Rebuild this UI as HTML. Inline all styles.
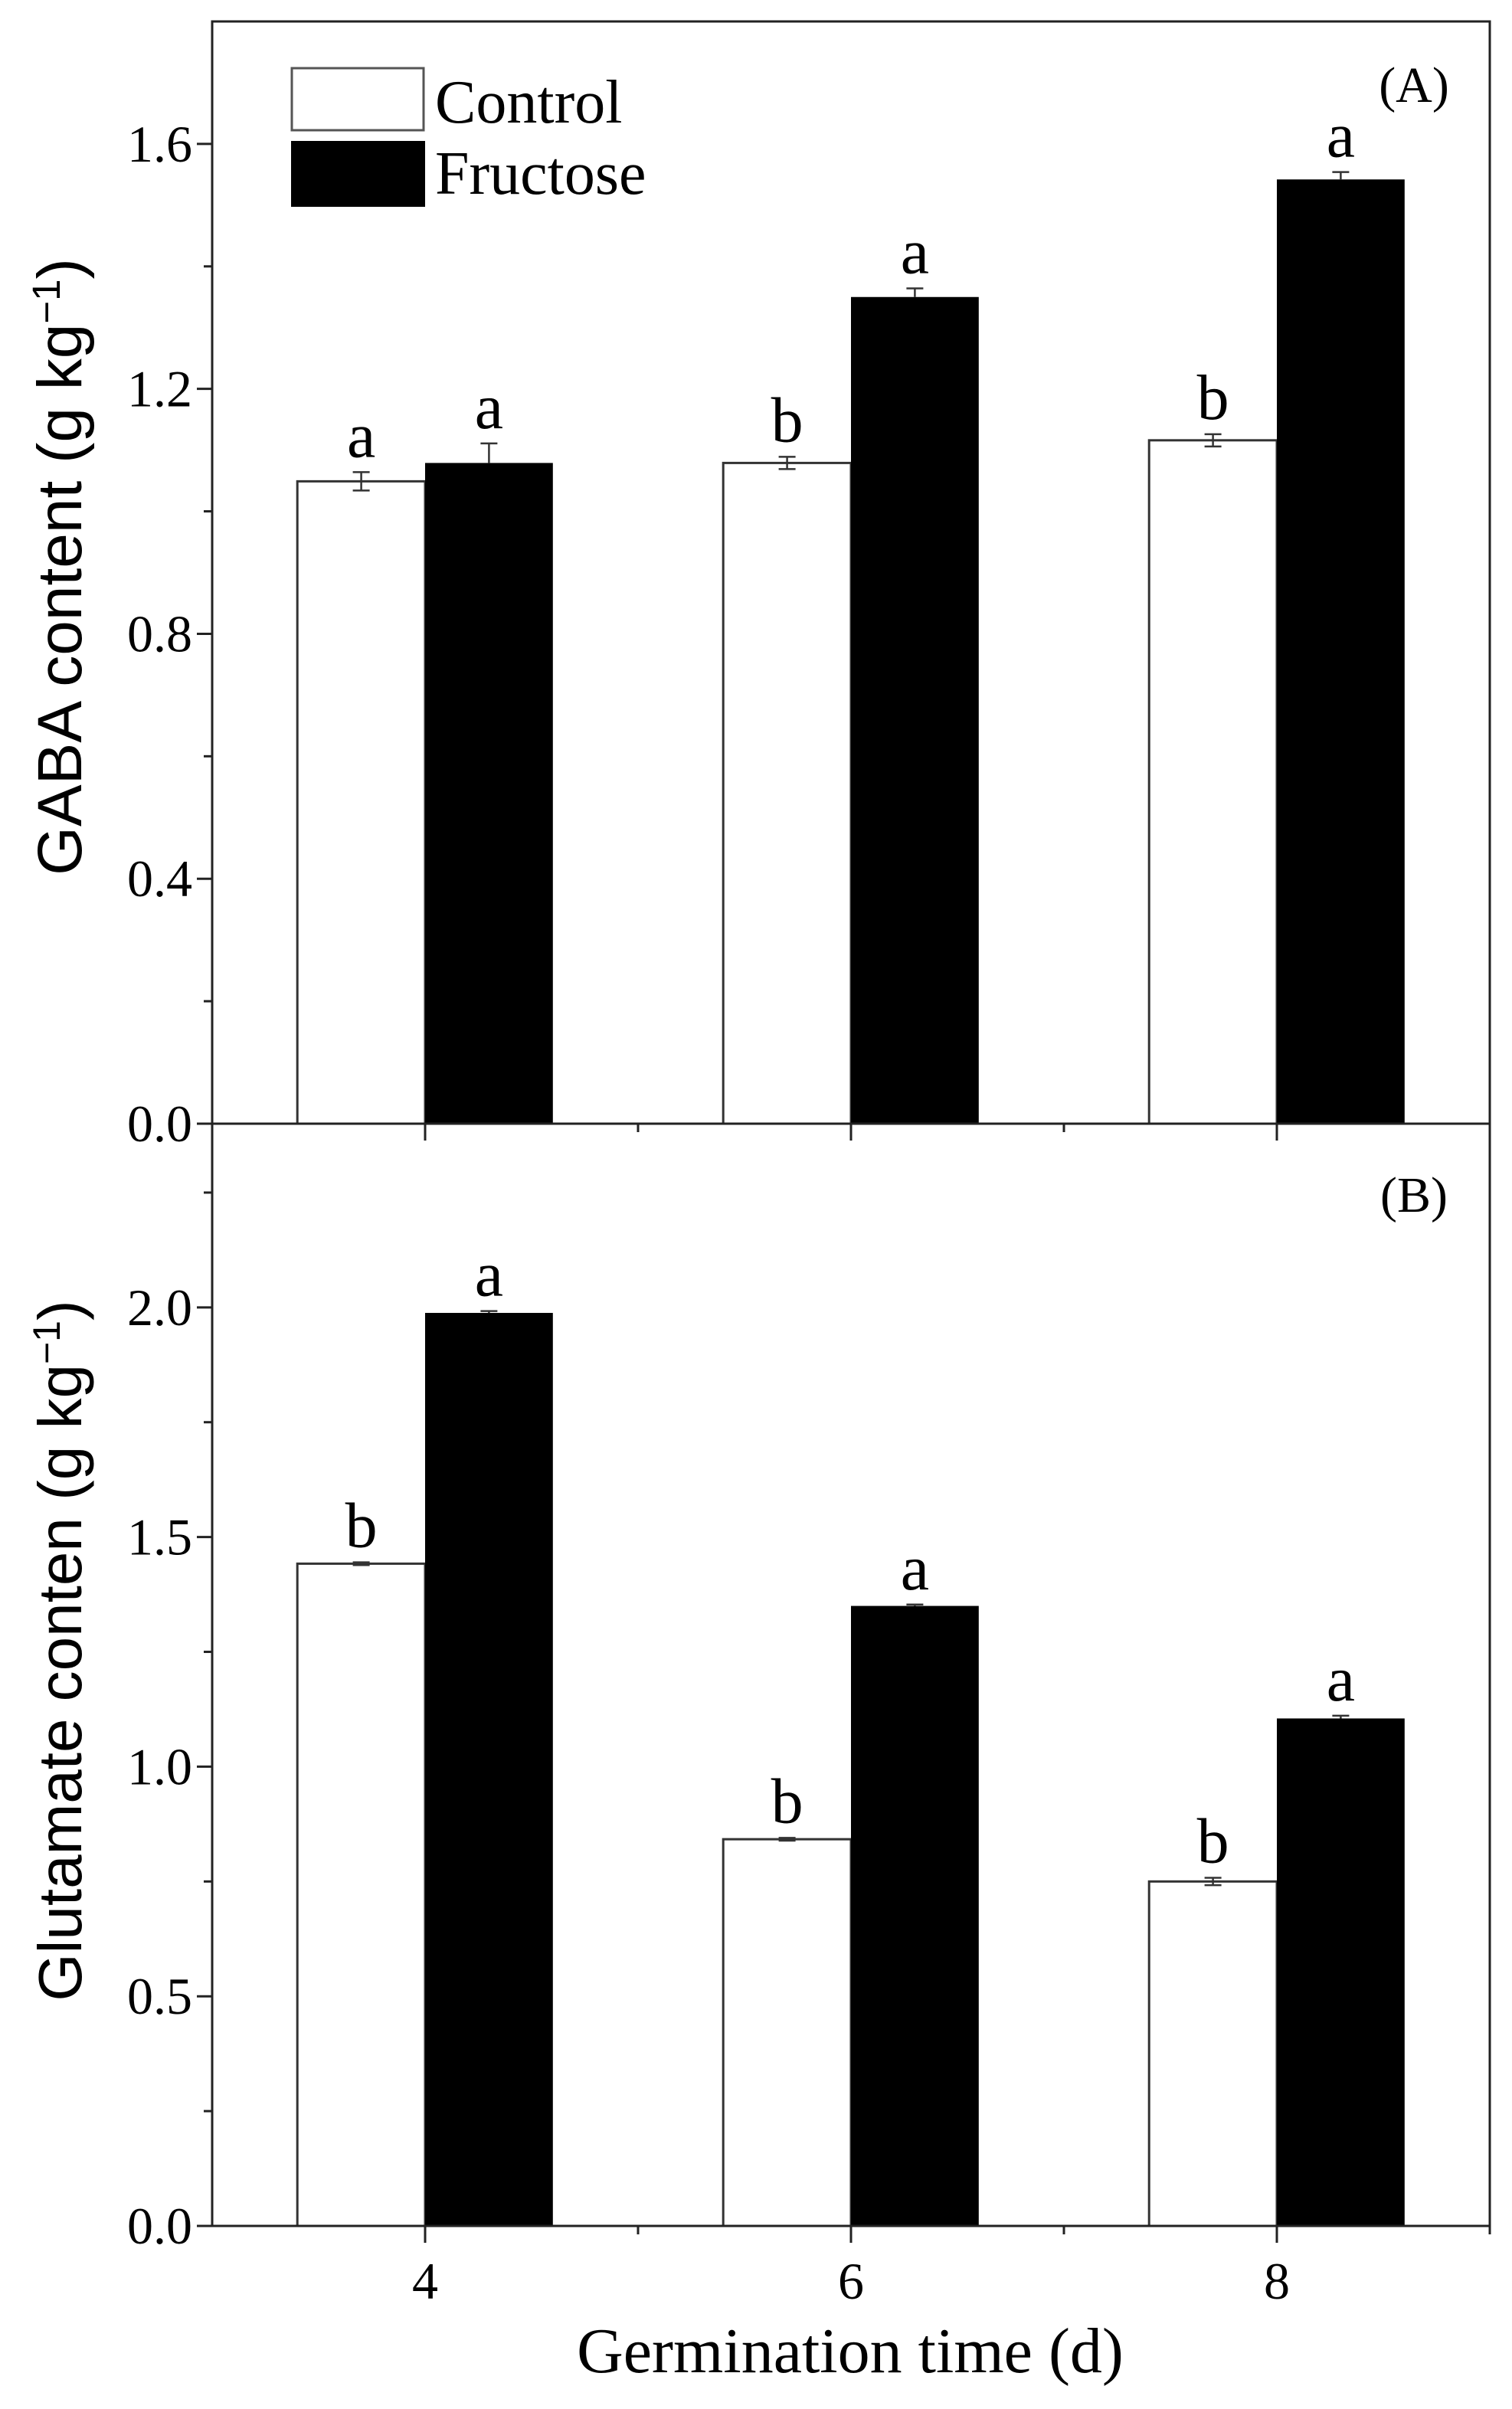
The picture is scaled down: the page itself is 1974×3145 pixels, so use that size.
<!DOCTYPE html>
<html><head><meta charset="utf-8"><style>
html,body{margin:0;padding:0;background:#fff;}
svg{display:block;}
text{font-family:"Liberation Serif",serif;fill:#000;}
.sans{font-family:"Liberation Sans",sans-serif;}
</style></head><body>
<svg id="chart" width="1974" height="3145" viewBox="0 0 1974 3145" xmlns="http://www.w3.org/2000/svg"></svg>
<script>
const days = [4, 6, 8];
const gabaControl = [1.049, 1.079, 1.116];
const gabaControlErr = [0.015, 0.01, 0.01];
const gabaFructose = [1.079, 1.350, 1.542];
const gabaFructoseErr = [0.032, 0.014, 0.012];
const gabaControlLetters = ["a", "b", "b"];
const gabaFructoseLetters = ["a", "a", "a"];
const gluControl = [1.442, 0.842, 0.750];
const gluControlErr = [0.003, 0.003, 0.008];
const gluFructose = [1.988, 1.350, 1.105];
const gluFructoseErr = [0.004, 0.003, 0.006];
const gluControlLetters = ["b", "b", "b"];
const gluFructoseLetters = ["a", "a", "a"];
const gabaTicks = ["0.0", "0.4", "0.8", "1.2", "1.6"];
const gluTicks = ["0.0", "0.5", "1.0", "1.5", "2.0"];
const xTickLabels = ["4", "6", "8"];

const NS = "http://www.w3.org/2000/svg";
const svg = document.getElementById("chart");
const L = 277, R = 1945;
const xMin = 3, xMax = 9;
function X(v){ return L + (v - xMin) / (xMax - xMin) * (R - L); }
function mk(tag, attrs, parent){ const e = document.createElementNS(NS, tag); for (const k in attrs) e.setAttribute(k, attrs[k]); (parent || svg).appendChild(e); return e; }
function txt(s, x, y, size, anchor, parent, cls){ const t = mk("text", {x:x, y:y, "font-size":size, "text-anchor":anchor||"middle"}, parent); if (cls) t.setAttribute("class", cls); t.textContent = s; return t; }

function panel(opts){
  const g = mk("g", {});
  
  
  const Y = v => opts.bottom - v / opts.yMax * (opts.bottom - opts.top);
  const bw = 0.6;
  for (let i = 0; i < days.length; i++) {
    const d = days[i];
    const cb = mk("rect", {x:X(d - bw), y:Y(opts.ctrl[i]), width:X(d) - X(d - bw), height:opts.bottom - Y(opts.ctrl[i]), fill:"#fff", stroke:"#333", "stroke-width":3}, g);
    
    
    const fb = mk("rect", {x:X(d), y:Y(opts.fru[i]), width:X(d + bw) - X(d), height:opts.bottom - Y(opts.fru[i]), fill:"#000"}, g);
    
    
    const cx = X(d - bw / 2), fx = X(d + bw / 2);
    const ct = Y(opts.ctrl[i] + opts.ctrlErr[i]), cbm = Y(opts.ctrl[i] - opts.ctrlErr[i]);
    const ep = mk("path", {d:`M${cx},${ct}V${cbm}M${cx-11},${ct}H${cx+11}M${cx-11},${cbm}H${cx+11}`, stroke:"#333", "stroke-width":2.5, fill:"none"}, g);
    
    
    const ft = Y(opts.fru[i] + opts.fruErr[i]), fy = Y(opts.fru[i]);
    const ef = mk("path", {d:`M${fx},${ft}V${fy}M${fx-11},${ft}H${fx+11}`, stroke:"#333", "stroke-width":2.5, fill:"none"}, g);
    
    
    const lc = txt(opts.ctrlL[i], cx, ct - 20, 84, "middle", g);
    
    
    const lf = txt(opts.fruL[i], fx, ft - 20, 84, "middle", g);
    
    
  }
  for (let i = 0; i < opts.ticks.length; i++) {
    const v = parseFloat(opts.ticks[i]);
    const y = Y(v);
    mk("line", {x1:L - 20, x2:L, y1:y, y2:y, stroke:"#222", "stroke-width":3}, g);
    const t = txt(opts.ticks[i], L - 26, y + 23, 68, "end", g);
    
    
  }
  for (let v = opts.minor; v < opts.yMax - 1e-6; v += opts.minor * 2) {
    const y = Y(v);
    mk("line", {x1:L - 11, x2:L, y1:y, y2:y, stroke:"#222", "stroke-width":3}, g);
  }
  for (let i = 0; i < days.length; i++) mk("line", {x1:X(days[i]), x2:X(days[i]), y1:opts.bottom, y2:opts.bottom + 22, stroke:"#222", "stroke-width":3}, g);
  [5, 7, 9].forEach(v => mk("line", {x1:X(v), x2:X(v), y1:opts.bottom, y2:opts.bottom + 11, stroke:"#222", "stroke-width":3}, g));
  mk("rect", {x:L, y:opts.top, width:R - L, height:opts.bottom - opts.top, fill:"none", stroke:"#222", "stroke-width":3}, g);
  const pl = txt(opts.label, 1846, opts.labelY, 66, "middle", g);
  
  
  const yt = mk("text", {x:0, y:0, "font-size":opts.titleSize, "text-anchor":"middle", transform:`translate(${opts.titleX},${opts.titleY}) rotate(-90)`, class:"sans"}, g);
  yt.innerHTML = opts.title + ' (g kg<tspan baseline-shift="super" font-size="' + Math.round(opts.titleSize*0.62) + '">−1</tspan>)';
  
  
}

panel({name:"panel-a-gaba", top:28, bottom:1467, yMax:1.8, ctrl:gabaControl, ctrlErr:gabaControlErr, fru:gabaFructose, fruErr:gabaFructoseErr, ctrlL:gabaControlLetters, fruL:gabaFructoseLetters, ticks:gabaTicks, minor:0.2, label:"(A)", labelY:133, title:"GABA content", titleSize:82, titleX:106, titleY:740});
panel({name:"panel-b-glutamate", top:1467, bottom:2906, yMax:2.4, ctrl:gluControl, ctrlErr:gluControlErr, fru:gluFructose, fruErr:gluFructoseErr, ctrlL:gluControlLetters, fruL:gluFructoseLetters, ticks:gluTicks, minor:0.25, label:"(B)", labelY:1582, title:"Glutamate conten", titleSize:80, titleX:106, titleY:2155});

for (let i = 0; i < days.length; i++) {
  const t = txt(xTickLabels[i], X(days[i]), 3001, 68, "middle");
  
  
}
const xt = txt("Germination time (d)", 1110, 3097, 84, "middle");



const lg = mk("g", {});


const lb1 = mk("rect", {x:381, y:89, width:172, height:81, fill:"#fff", stroke:"#555", "stroke-width":3}, lg);


const lt1 = txt("Control", 568, 160, 80, "start", lg);


const lb2 = mk("rect", {x:380, y:184, width:175, height:86, fill:"#000"}, lg);


const lt2 = txt("Fructose", 568, 253, 80, "start", lg);


</script>
</body></html>
